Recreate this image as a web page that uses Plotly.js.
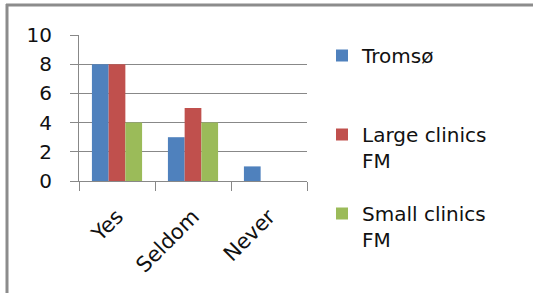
<!DOCTYPE html>
<html>
<head>
<meta charset="utf-8">
<script src="https://cdn.plot.ly/plotly-3.0.1.min.js"></script>
<style>
html,body{margin:0;padding:0;background:#fff;}
#chart{width:533px;height:293px;}
</style>
</head>
<body>
<div id="chart"></div>
<script>
var categories = ["Yes", "Seldom", "Never"];
var seriesNames = ["Tromsø<br>\u00a0", "Large clinics<br>FM", "Small clinics<br>FM"];
var tromso = [8, 3, 1];
var largeClinics = [8, 5, 0];
var smallClinics = [4, 4, 0];
var yTicks = [0, 2, 4, 6, 8, 10];

var colors = ["#4F81BD", "#C0504D", "#9BBB59"];
var values = [tromso, largeClinics, smallClinics];

var traces = values.map(function (v, i) {
  return {
    type: "bar",
    x: categories,
    y: v,
    name: seriesNames[i],
    legendgroup: "g" + i,
    marker: { color: colors[i], line: { width: 0 } },
    hoverinfo: "x+y+name"
  };
});

var L = 79, R = 307, T = 35, B = 181;
function px(x) { return (x - L) / (R - L); }
function py(y) { return (B - y) / (B - T); }

var gray = "#888888";
var layout = {
  width: 533,
  height: 293,
  margin: { l: L, r: 533 - R, t: T, b: 293 - B, pad: 0 },
  paper_bgcolor: "#ffffff",
  plot_bgcolor: "#ffffff",
  font: { family: "DejaVu Sans, sans-serif", size: 19, color: "#111111" },
  barmode: "group",
  bargap: 0.34,
  bargroupgap: 0,
  showlegend: true,
  legend: {
    x: px(322),
    xanchor: "left",
    y: py(36),
    yanchor: "top",
    valign: "top",
    traceorder: "grouped",
    tracegroupgap: 24,
    maxheight: 290,
    font: { family: "DejaVu Sans, sans-serif", size: 20, color: "#111111" },
    bgcolor: "rgba(0,0,0,0)",
    itemwidth: 30
  },
  xaxis: {
    type: "category",
    tickson: "boundaries",
    ticks: "outside",
    ticklen: 9,
    tickcolor: gray,
    tickwidth: 1,
    showline: true,
    linecolor: gray,
    linewidth: 1,
    showgrid: false,
    tickangle: -45,
    ticklabelstandoff: 14,
    tickfont: { family: "DejaVu Sans, sans-serif", size: 21, color: "#111111" },
    fixedrange: true
  },
  yaxis: {
    range: [0, 10],
    tickvals: yTicks,
    ticktext: yTicks.map(String),
    ticks: "outside",
    ticklen: 8,
    tickcolor: gray,
    tickwidth: 1,
    showline: true,
    linecolor: gray,
    linewidth: 1,
    showgrid: true,
    gridcolor: gray,
    gridwidth: 1,
    zeroline: false,
    ticklabelstandoff: 14,
    tickfont: { family: "DejaVu Sans, sans-serif", size: 20, color: "#111111" },
    fixedrange: true
  },
  shapes: [
    { type: "line", xref: "paper", yref: "paper", x0: px(6), x1: px(533), y0: py(5), y1: py(5),
      line: { color: "#8c8c8c", width: 3 } },
    { type: "line", xref: "paper", yref: "paper", x0: px(7), x1: px(7), y0: py(4), y1: py(293),
      line: { color: "#8c8c8c", width: 3 } }
  ]
};

Plotly.newPlot("chart", traces, layout, { displayModeBar: false, staticPlot: true });
</script>
</body>
</html>
